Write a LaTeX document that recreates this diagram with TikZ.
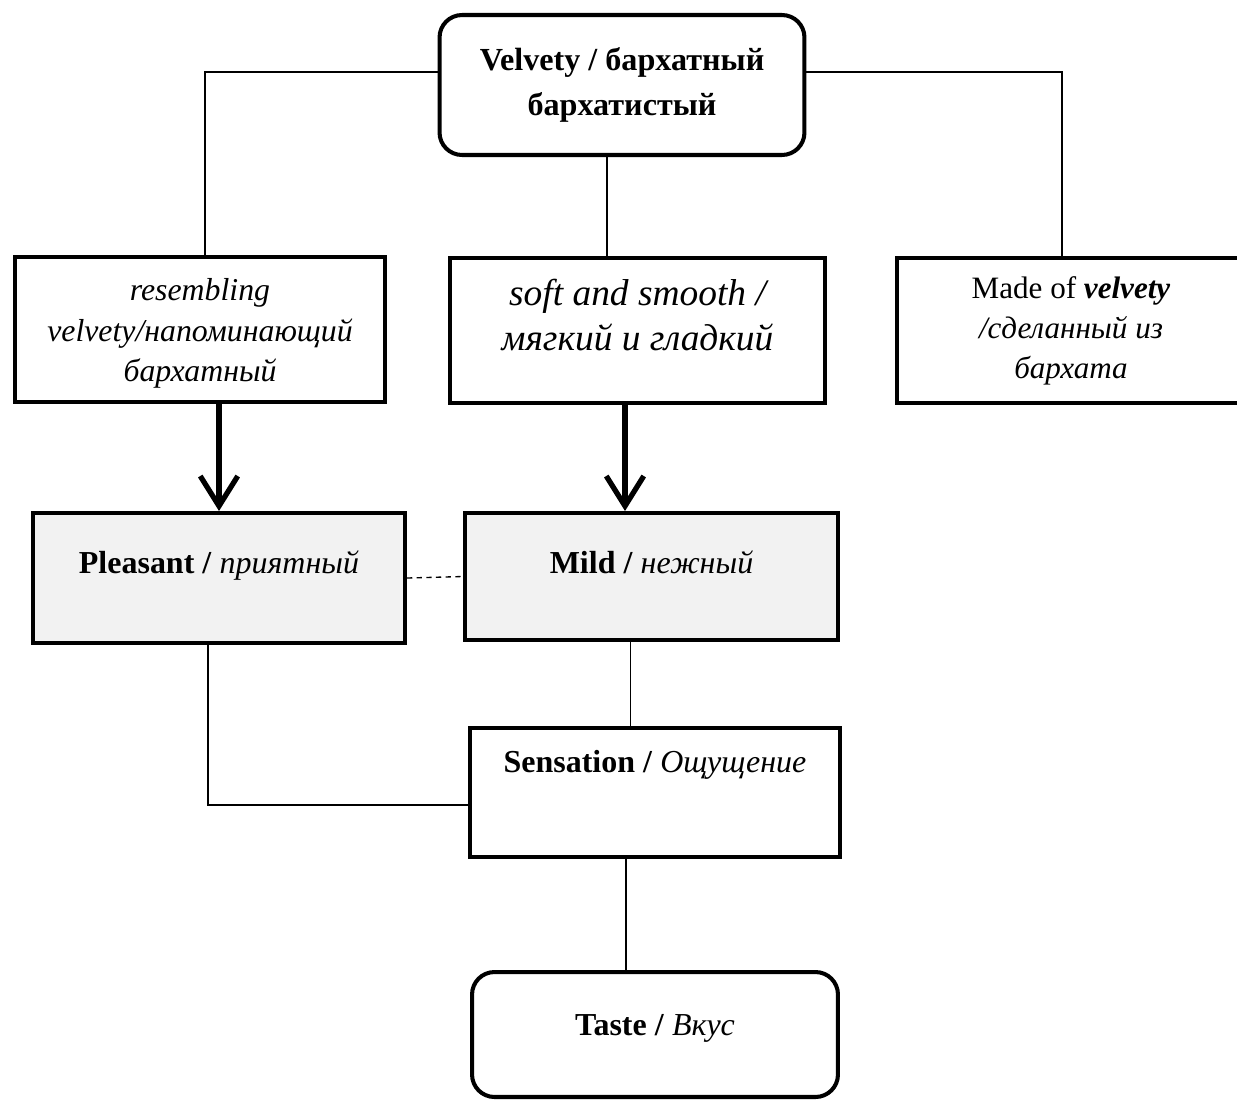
\documentclass[tikz,border=0pt]{standalone}
\usepackage{fontspec}
\setmainfont{Liberation Serif}
\usetikzlibrary{arrows.meta}
\definecolor{boxgray}{HTML}{F2F2F2}
\begin{document}
\begin{tikzpicture}[x=0.02cm,y=-0.02cm,
    boxed/.style={draw,line width=2.3pt,inner sep=0pt,align=center,font=\fontsize{18.2}{23}\selectfont},
    roundbox/.style={rounded corners=0.45cm},
    link/.style={line width=0.75pt},
    bigarrow/.style={line width=3pt,-{Straight Barb[length=0.6cm,width=0.75cm]}}]
      \useasboundingbox (0,0) rectangle (1237,1099);
      \node[boxed,roundbox,minimum width=7.3cm,minimum height=2.8cm,font=\fontsize{18.3}{25.5}\selectfont\bfseries] (velvety) at (622,85) {Velvety / бархатный\\бархатистый};
      \node[boxed,minimum width=7.4cm,text height=2.5cm,text depth=0.4cm,font=\fontsize{18.1}{23.2}\selectfont\itshape] (resembling) at (200,329.5) {resembling\\velvety/напоминающий\\бархатный};
      \node[boxed,minimum width=7.5cm,text height=1.84cm,text depth=1.06cm,font=\fontsize{21.3}{25.5}\selectfont\itshape] (soft) at (637.5,330.5) {soft and smooth /\\мягкий и гладкий};
      \node[boxed,minimum width=6.96cm,minimum height=2.9cm,font=\fontsize{17.7}{22.7}\selectfont] (made) at (1071,330.5) {Made of \textbf{\textit{velvety}}\\\textit{/сделанный из}\\\textit{бархата}};
      \node[boxed,fill=boxgray,anchor=base,minimum width=7.44cm,text height=1.2cm,text depth=1.4cm] (pleasant) at (219,573) {\textbf{Pleasant /} \textit{приятный}};
      \node[boxed,fill=boxgray,anchor=base,minimum width=7.46cm,text height=1.2cm,text depth=1.34cm] (mild) at (651.5,573) {\textbf{Mild /} \textit{нежный}};
      \node[boxed,anchor=base,minimum width=7.4cm,text height=0.88cm,text depth=1.7cm] (sensation) at (655,772) {\textbf{Sensation /} \textit{Ощущение}};
      \node[boxed,roundbox,anchor=base,minimum width=7.32cm,text height=1.26cm,text depth=1.24cm] (taste) at (655,1035) {\textbf{Taste /} \textit{Вкус}};
      \coordinate (vl) at ([yshift=0.26cm]velvety.west);
      \coordinate (vr) at ([yshift=0.26cm]velvety.east);
      \coordinate (vs) at ([xshift=-0.3cm]velvety.south);
      \coordinate (so) at ([xshift=-0.25cm]soft.south);
      \coordinate (mo) at ([xshift=-0.42cm]mild.south);
      \coordinate (se) at ([xshift=-0.58cm]sensation.south);
      \draw[link] (vl) -| ([xshift=0.1cm]resembling.north);
      \draw[link] (vr) -| ([xshift=-0.18cm]made.north);
      \draw[link] (vs) -- (vs |- soft.north);
      \draw[bigarrow] (resembling.south -| pleasant.north) -- (pleasant.north);
      \draw[bigarrow] (so) -- (so |- mild.north);
      \draw[link,dash pattern=on 3pt off 2.5pt] (pleasant.east) -- (mild.west);
      \draw[link] ([xshift=-0.22cm]pleasant.south) |- ([yshift=-0.25cm]sensation.west);
      \draw[link] (mo) -- (mo |- sensation.north);
      \draw[link] (se) -- (se |- taste.north);
    \end{tikzpicture}
\end{document}
